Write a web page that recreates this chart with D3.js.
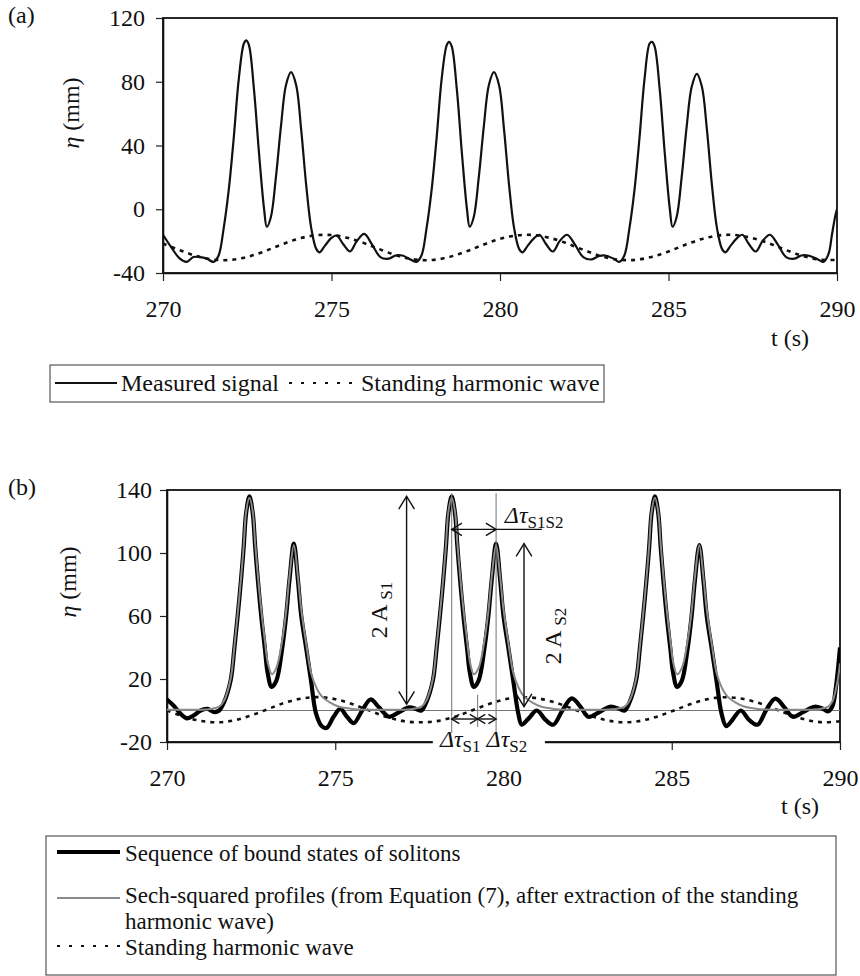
<!DOCTYPE html>
<html>
<head>
<meta charset="utf-8">
<script src="https://cdn.jsdelivr.net/npm/d3@7"></script>
<style>
  body { margin: 0; background: #fff; }
  svg text { font-family: "Liberation Serif", "Times New Roman", serif; fill: #111; }
</style>
</head>
<body>
<div id="container"></div>
<script>
// ---- data: [t (s), eta (mm)] ----
const tTicks = [270, 275, 280, 285, 290];
const etaTicksA = [-40, 0, 40, 80, 120];
const etaTicksB = [-20, 20, 60, 100, 140];

const measuredA = [
  [270.0,-16],[270.25,-24],[270.5,-31],[270.7,-33],[270.9,-30],[271.1,-30],[271.3,-31],[271.5,-33],
  [271.65,-29],[271.8,-12],[271.95,12],[272.1,45],[272.25,82],[272.4,104],[272.47,106],[272.55,103],
  [272.7,75],[272.85,35],[273.0,0],[273.08,-11],[273.2,-5],[273.35,20],[273.5,52],[273.65,78],
  [273.8,86],[273.95,78],[274.1,50],[274.25,15],[274.4,-12],[274.55,-25],[274.65,-27],[274.8,-23],
  [275.0,-18],[275.15,-16.5],[275.35,-22],[275.55,-26.5],[275.75,-20],[275.97,-15.5],[276.2,-22],
  [276.45,-30],[276.7,-31],[276.9,-29],[277.1,-29],[277.3,-31],[277.52,-33],[277.67,-29],[277.82,-12],
  [277.97,12],[278.12,45],[278.27,82],[278.42,103],[278.49,105],[278.57,102],[278.72,75],[278.87,35],
  [279.02,0],[279.1,-11],[279.22,-5],[279.37,20],[279.52,52],[279.67,78],[279.82,86],[279.97,78],
  [280.12,50],[280.27,15],[280.42,-12],[280.57,-25],[280.67,-27],[280.82,-23],[281.02,-18],[281.17,-16],
  [281.37,-22],[281.57,-26.5],[281.77,-20],[281.99,-16],[282.22,-22],[282.47,-30],[282.72,-31.5],
  [282.92,-29.5],[283.12,-29],[283.37,-31],[283.54,-33],[283.69,-29],[283.84,-12],[283.99,12],
  [284.14,45],[284.29,82],[284.44,104],[284.51,105],[284.59,102],[284.74,75],[284.89,35],[285.04,0],
  [285.12,-11],[285.24,-5],[285.39,20],[285.54,52],[285.69,77],[285.84,85],[285.99,77],[286.14,50],
  [286.29,15],[286.44,-12],[286.59,-25],[286.69,-27],[286.84,-23],[287.04,-18],[287.19,-16],[287.39,-22],
  [287.59,-26.5],[287.79,-20],[288.01,-16],[288.24,-22],[288.49,-30],[288.74,-31],[288.94,-29],
  [289.14,-29],[289.39,-31],[289.6,-33],[289.75,-28],[289.85,-16],[289.95,-4],[290.0,0]
];

const standingA = [
  [270,-21.5],[270.5,-25.7],[271,-29.4],[271.5,-31.6],[272,-31.8],[272.5,-29.9],[273,-26.5],[273.5,-22.3],
  [274,-18.6],[274.5,-16.4],[275,-16.2],[275.5,-18.1],[276,-21.5],[276.5,-25.7],[277,-29.4],[277.5,-31.6],
  [278,-31.8],[278.5,-29.9],[279,-26.5],[279.5,-22.3],[280,-18.6],[280.5,-16.4],[281,-16.2],[281.5,-18.1],
  [282,-21.5],[282.5,-25.7],[283,-29.4],[283.5,-31.6],[284,-31.8],[284.5,-29.9],[285,-26.5],[285.5,-22.3],
  [286,-18.6],[286.5,-16.4],[287,-16.2],[287.5,-18.1],[288,-21.5],[288.5,-25.7],[289,-29.4],[289.5,-31.6],
  [290,-31.8]
];

const solitonsB = [
  [270.0,7],[270.2,3],[270.4,-2],[270.6,-5],[270.8,-3],[271.0,0],[271.2,1],[271.4,-1],[271.55,0],
  [271.69,5],[271.89,19],[272.0,39],[272.1,60],[272.2,83],[272.28,104],[272.35,125],[272.45,136],
  [272.55,125],[272.62,104],[272.7,83],[272.8,60],[272.91,39],[272.99,24],[273.11,15],[273.25,19],
  [273.42,39],[273.54,60],[273.64,83],[273.77,106],[273.89,83],[273.99,60],[274.14,39],[274.28,19],
  [274.43,-2],[274.6,-10],[274.75,-11],[274.95,-4],[275.15,1],[275.35,-4],[275.55,-8],[275.8,0],
  [276.05,7],[276.3,2],[276.6,-4],[276.9,-1],[277.2,2],[277.4,1],
  [277.56,0],[277.7,5],[277.9,19],[278.01,39],[278.11,60],[278.21,83],[278.29,104],[278.36,125],
  [278.46,136],[278.56,125],[278.63,104],[278.71,83],[278.81,60],[278.92,39],[279.0,24],[279.12,15],
  [279.26,19],[279.43,39],[279.55,60],[279.65,83],[279.78,106],[279.9,83],[280.0,60],[280.15,39],
  [280.29,19],[280.44,-2],[280.54,-9],[280.75,-5],[280.99,0],[281.25,-6],[281.48,-9],[281.75,0],
  [282.03,7.7],[282.3,2],[282.52,-4],[282.85,-1],[283.17,2.4],[283.45,1],
  [283.6,0],[283.74,5],[283.94,19],[284.05,39],[284.15,60],[284.25,83],[284.33,104],[284.4,125],
  [284.5,136],[284.6,125],[284.67,104],[284.75,83],[284.85,60],[284.96,39],[285.04,24],[285.16,15],
  [285.3,19],[285.47,39],[285.59,60],[285.69,83],[285.82,105],[285.94,83],[286.04,60],[286.19,39],
  [286.33,19],[286.48,-2],[286.62,-10],[286.8,-6],[287.05,0],[287.3,-6],[287.55,-9],[287.8,0],
  [288.08,7.5],[288.35,2],[288.6,-4],[288.9,-1],[289.25,2.4],[289.5,1],[289.65,-0.5],[289.78,3],
  [289.88,15],[290.0,40]
];

const sechB = [
  [270,0.5],[270.5,0.5],[271,0.5],[271.3,1],[271.55,2.5],[271.69,6],[271.89,20],[272.0,40],[272.1,61],
  [272.2,84],[272.28,105],[272.35,126],[272.45,135],[272.55,126],[272.62,106],[272.7,86],[272.8,64],
  [272.91,44],[273.0,30],[273.12,23],[273.25,27],[273.42,44],[273.54,63],[273.64,85],[273.77,105],
  [273.89,85],[273.99,64],[274.14,42],[274.28,24],[274.45,14],[274.6,9],[274.85,5],[275.1,2.5],
  [275.5,1],[276,0.5],[276.5,0.5],[277,0.5],[277.3,1],
  [277.56,2.5],[277.7,6],[277.9,20],[278.01,40],[278.11,61],[278.21,84],[278.29,105],[278.36,126],
  [278.46,135],[278.56,126],[278.63,106],[278.71,86],[278.81,64],[278.92,44],[279.01,30],[279.12,23],
  [279.26,27],[279.43,44],[279.55,63],[279.65,85],[279.78,105],[279.9,85],[280.0,64],[280.15,42],
  [280.29,24],[280.46,14],[280.61,9],[280.86,5],[281.11,2.5],[281.5,1],[282,0.5],[282.5,0.5],
  [283,0.5],[283.3,1],
  [283.6,2.5],[283.74,6],[283.94,20],[284.05,40],[284.15,61],[284.25,84],[284.33,105],[284.4,126],
  [284.5,135],[284.6,126],[284.67,106],[284.75,86],[284.85,64],[284.96,44],[285.05,30],[285.16,23],
  [285.3,27],[285.47,44],[285.59,63],[285.69,85],[285.82,105],[285.94,85],[286.04,64],[286.19,42],
  [286.33,24],[286.5,14],[286.65,9],[286.9,5],[287.15,2.5],[287.55,1],[288,0.5],[288.5,0.5],
  [289,0.5],[289.4,1],[289.65,2.5],[289.78,6],[289.92,18],[290.0,30]
];

const standingB = [
  [270,0.1],[270.5,-3.9],[271,-6.6],[271.5,-7.5],[272,-6.2],[272.5,-3.1],[273,0.9],[273.5,4.9],
  [274,7.6],[274.5,8.5],[275,7.2],[275.5,4.1],[276,0.1],[276.5,-3.9],[277,-6.6],[277.5,-7.5],
  [278,-6.8],[278.5,-4.3],[279,-0.5],[279.5,3.6],[280,6.9],[280.5,8.4],[281,7.8],[281.5,5.3],
  [282,1.5],[282.5,-2.6],[283,-5.9],[283.5,-7.5],[284,-6.8],[284.5,-4.3],[285,-0.5],[285.5,3.6],
  [286,6.9],[286.5,8.4],[287,7.8],[287.5,5.3],[288,1.5],[288.5,-2.6],[289,-5.9],[289.5,-7.5],
  [290,-6.8]
];

// annotation values in panel (b)
const peakTimes = [278.46, 279.78];
const peakSplitT = 279.23;
const ampS1 = [277.12, 136, 4];      // t, top eta, bottom eta
const ampS2 = [280.61, 106, 2.4];
const tauS1S2Eta = 115;
const tauS1S2End = 281.14;
const tauSmallEta = -5.4;

const legendA = ['Measured signal', 'Standing harmonic wave'];
const legendB = [
  ['Sequence of bound states of solitons'],
  ['Sech-squared profiles (from Equation (7), after extraction of the standing', 'harmonic wave)'],
  ['Standing harmonic wave']
];

// ---- drawing ----
const w = 860;
const h = 976;

const svg = d3.select('#container')
  .append('svg')
  .attr('width', w)
  .attr('height', h);

const defs = svg.append('defs');

const drawPanel = (cfg) => {
  const x = d3.scaleLinear().domain([270, 290]).range(cfg.xRange);
  const y = d3.scaleLinear().domain(cfg.yDomain).range(cfg.yRange);

  const g = svg.append('g');

  defs.append('clipPath')
    .attr('id', cfg.id + '-clip')
    .append('rect')
    .attr('x', cfg.xRange[0])
    .attr('y', cfg.yRange[1])
    .attr('width', cfg.xRange[1] - cfg.xRange[0])
    .attr('height', cfg.yRange[0] - cfg.yRange[1]);

  const xAxis = d3.axisBottom(x)
    .tickValues(tTicks)
    .tickFormat(d => String(d))
    .tickSize(8)
    .tickSizeOuter(0)
    .tickPadding(19);

  const yAxis = d3.axisLeft(y)
    .tickValues(cfg.yTicks)
    .tickFormat(d => String(d))
    .tickSize(7)
    .tickSizeOuter(0)
    .tickPadding(cfg.yPad);

  g.append('g')
    .attr('transform', `translate(0,${cfg.yRange[0]})`)
    .call(xAxis);

  g.append('g')
    .attr('transform', `translate(${cfg.xRange[0]},0)`)
    .call(yAxis);

  g.selectAll('.tick text')
    .attr('font-family', null)
    .style('font-size', '24px');
  g.selectAll('.tick line').attr('stroke', '#222').attr('stroke-width', 1.2);
  g.selectAll('.domain').attr('stroke', '#111').attr('stroke-width', 1.6);

  g.append('rect')
    .attr('x', cfg.xRange[0])
    .attr('y', cfg.yRange[1])
    .attr('width', cfg.xRange[1] - cfg.xRange[0])
    .attr('height', cfg.yRange[0] - cfg.yRange[1])
    .attr('fill', 'none')
    .attr('stroke', '#111')
    .attr('stroke-width', 1.8);

  const plot = g.append('g').attr('clip-path', `url(#${cfg.id}-clip)`);

  const line = d3.line()
    .x(d => x(d[0]))
    .y(d => y(d[1]))
    .curve(d3.curveCatmullRom.alpha(0.5));

  cfg.series.forEach(s => {
    plot.append('path')
      .datum(s.data)
      .attr('d', line)
      .attr('fill', 'none')
      .attr('stroke', s.color)
      .attr('stroke-width', s.width)
      .attr('stroke-dasharray', s.dash || null)
      .attr('stroke-linejoin', 'round');
  });

  // panel letter
  svg.append('text')
    .attr('x', 8)
    .attr('y', cfg.yRange[1] - 3)
    .attr('dy', '0.35em')
    .style('font-size', '24px')
    .text(cfg.letter);

  // axis titles
  const yl = svg.append('text')
    .attr('transform', `translate(${cfg.yLabel[0]},${cfg.yLabel[1]}) rotate(-90)`)
    .attr('text-anchor', 'middle')
    .attr('dy', '0.35em')
    .style('font-size', '24px');
  yl.append('tspan').attr('font-style', 'italic').text('η');
  yl.append('tspan').text(' (mm)');

  svg.append('text')
    .attr('x', cfg.tLabel[0])
    .attr('y', cfg.tLabel[1])
    .attr('text-anchor', 'middle')
    .attr('dy', '0.35em')
    .style('font-size', '24px')
    .text('t (s)');

  return { g, x, y, plot };
};

// panel (a)
drawPanel({
  id: 'pa',
  letter: '(a)',
  xRange: [163, 837],
  yRange: [273, 18],
  yDomain: [-40, 120],
  yTicks: etaTicksA,
  yPad: 11,
  yLabel: [71, 113],
  tLabel: [790, 338],
  series: [
    { data: standingA, color: '#111', width: 2.6, dash: '4,5' },
    { data: measuredA, color: '#111', width: 2.2 }
  ]
});

// panel (b)
const pb = drawPanel({
  id: 'pb',
  letter: '(b)',
  xRange: [167, 840],
  yRange: [742, 490],
  yDomain: [-20, 140],
  yTicks: etaTicksB,
  yPad: 8,
  yLabel: [68, 582],
  tLabel: [800, 806],
  series: [
    { data: standingB, color: '#111', width: 2.6, dash: '4,5' },
    { data: solitonsB, color: '#000', width: 4.2 },
    { data: sechB, color: '#8a8a8a', width: 2 }
  ]
});

// zero line under the sech profiles
pb.plot.insert('line', ':first-child')
  .attr('x1', pb.x(270)).attr('x2', pb.x(290))
  .attr('y1', pb.y(0)).attr('y2', pb.y(0))
  .attr('stroke', '#777')
  .attr('stroke-width', 1.2);

// ---- annotations in (b) ----
const ann = pb.g.append('g');

const head = (px, py, ang, size) => {
  const a1 = ang + Math.PI - 0.55;
  const a2 = ang + Math.PI + 0.55;
  ann.append('path')
    .attr('d', `M${px + size * Math.cos(a1)},${py + size * Math.sin(a1)}L${px},${py}L${px + size * Math.cos(a2)},${py + size * Math.sin(a2)}`)
    .attr('fill', 'none')
    .attr('stroke', '#111')
    .attr('stroke-width', 1.4);
};

const dblArrow = (x1, y1, x2, y2, size) => {
  ann.append('line')
    .attr('x1', x1).attr('y1', y1).attr('x2', x2).attr('y2', y2)
    .attr('stroke', '#111').attr('stroke-width', 1.4);
  const ang = Math.atan2(y2 - y1, x2 - x1);
  head(x2, y2, ang, size);
  head(x1, y1, ang + Math.PI, size);
};

const { x: xb, y: yb } = pb;

// thin gray verticals at the two peaks and between them
peakTimes.forEach(t => {
  ann.append('line')
    .attr('x1', xb(t)).attr('x2', xb(t))
    .attr('y1', yb(138)).attr('y2', yb(-14.5))
    .attr('stroke', '#808080').attr('stroke-width', 1.1);
});
ann.append('line')
  .attr('x1', xb(peakSplitT)).attr('x2', xb(peakSplitT))
  .attr('y1', yb(10)).attr('y2', yb(-10.5))
  .attr('stroke', '#808080').attr('stroke-width', 1.1);

// amplitude arrows
dblArrow(xb(ampS1[0]), yb(ampS1[1]), xb(ampS1[0]), yb(ampS1[2]), 15);
dblArrow(xb(ampS2[0]), yb(ampS2[1]), xb(ampS2[0]), yb(ampS2[2]), 15);

// separation arrows
dblArrow(xb(peakTimes[0]), yb(tauS1S2Eta), xb(peakTimes[1]), yb(tauS1S2Eta), 12);
ann.append('line')
  .attr('x1', xb(peakTimes[1])).attr('x2', xb(tauS1S2End))
  .attr('y1', yb(tauS1S2Eta)).attr('y2', yb(tauS1S2Eta))
  .attr('stroke', '#111').attr('stroke-width', 1.4);
dblArrow(xb(peakTimes[0]), yb(tauSmallEta), xb(peakSplitT), yb(tauSmallEta), 9);
dblArrow(xb(peakSplitT), yb(tauSmallEta), xb(peakTimes[1]), yb(tauSmallEta), 9);

const subLabel = (parent, main, sub, italic) => {
  const t = parent.append('text').style('font-size', '24px');
  t.append('tspan').attr('font-style', italic ? 'italic' : null).text(main);
  t.append('tspan').style('font-size', '17px').attr('dy', 5).text(sub);
  return t;
};

// rotated amplitude labels
subLabel(ann, '2 A ', 'S1', false)
  .attr('text-anchor', 'middle')
  .attr('dy', '0.35em')
  .attr('transform', `translate(${xb(276.3)},${yb(63.8)}) rotate(-90)`);
subLabel(ann, '2 A ', 'S2', false)
  .attr('text-anchor', 'middle')
  .attr('dy', '0.35em')
  .attr('transform', `translate(${xb(281.47)},${yb(47.3)}) rotate(-90)`);

subLabel(ann, 'Δτ', 'S1S2', true)
  .attr('x', xb(280.04))
  .attr('y', yb(119));

// label sitting on the bottom axis
ann.append('rect')
  .attr('x', xb(277.9)).attr('width', xb(281.23) - xb(277.9))
  .attr('y', yb(-20) - 9).attr('height', 24)
  .attr('fill', '#fff');
const bottomLab = ann.append('text')
  .attr('x', xb(278.11))
  .attr('y', yb(-23.2))
  .style('font-size', '24px');
bottomLab.append('tspan').attr('font-style', 'italic').text('Δτ');
bottomLab.append('tspan').style('font-size', '17px').attr('dy', 5).text('S1');
bottomLab.append('tspan').attr('dy', -5).text(' ');
bottomLab.append('tspan').attr('font-style', 'italic').text('Δτ');
bottomLab.append('tspan').style('font-size', '17px').attr('dy', 5).text('S2');

// ---- legends ----
const legA = svg.append('g');
legA.append('rect')
  .attr('x', 50).attr('y', 365).attr('width', 554).attr('height', 37)
  .attr('fill', 'none').attr('stroke', '#555').attr('stroke-width', 1.2);
legA.append('line')
  .attr('x1', 55).attr('x2', 117).attr('y1', 383).attr('y2', 383)
  .attr('stroke', '#111').attr('stroke-width', 2.2);
legA.append('text').attr('x', 121).attr('y', 383).attr('dy', '0.35em')
  .style('font-size', '24px').text(legendA[0]);
legA.append('line')
  .attr('x1', 289).attr('x2', 358).attr('y1', 383).attr('y2', 383)
  .attr('stroke', '#111').attr('stroke-width', 2.2).attr('stroke-dasharray', '3,9');
legA.append('text').attr('x', 361).attr('y', 383).attr('dy', '0.35em')
  .style('font-size', '24px').text(legendA[1]);

const legB = svg.append('g');
legB.append('rect')
  .attr('x', 46).attr('y', 836).attr('width', 790).attr('height', 139)
  .attr('fill', 'none').attr('stroke', '#555').attr('stroke-width', 1.2);

const legBStyles = [
  { y: 852, ty: 853, color: '#000', width: 4.2, dash: null },
  { y: 898, ty: 895, color: '#8a8a8a', width: 2, dash: null },
  { y: 946, ty: 947, color: '#111', width: 2.2, dash: '3,9' }
];
legendB.forEach((lines, i) => {
  const s = legBStyles[i];
  legB.append('line')
    .attr('x1', 57).attr('x2', 120).attr('y1', s.y).attr('y2', s.y)
    .attr('stroke', s.color).attr('stroke-width', s.width)
    .attr('stroke-dasharray', s.dash);
  lines.forEach((txt, j) => {
    legB.append('text')
      .attr('x', 125)
      .attr('y', s.ty + j * 26)
      .attr('dy', '0.35em')
      .style('font-size', '23px')
      .text(txt);
  });
});
</script>
</body>
</html>
